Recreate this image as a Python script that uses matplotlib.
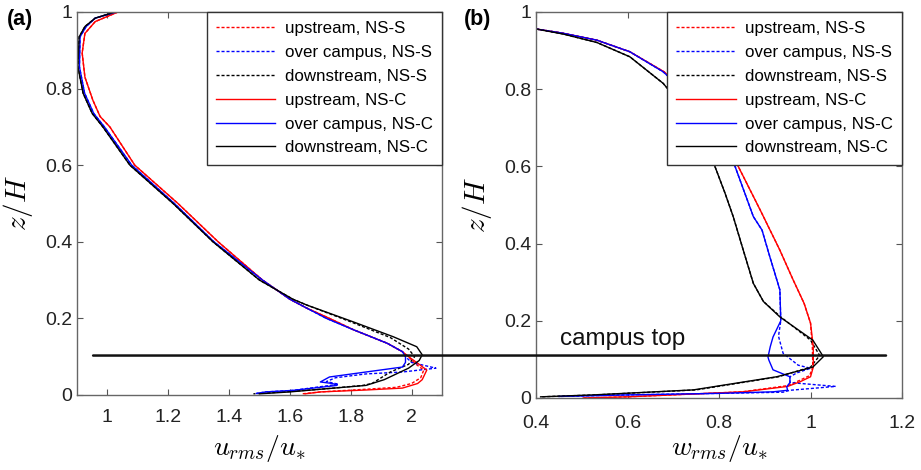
import numpy as np
import matplotlib.pyplot as plt
from matplotlib.patches import ConnectionPatch
from matplotlib.ticker import FormatStrFormatter
from matplotlib.transforms import blended_transform_factory

plt.rcParams['font.family'] = ['Liberation Sans', 'DejaVu Sans']
plt.rcParams['mathtext.fontset'] = 'cm'

# ---- (a) streamwise rms velocity, u_rms/u* against z/H ----
a_up_c_z = [1.0, 0.975, 0.944, 0.893, 0.83, 0.77, 0.727, 0.7, 0.6, 0.5, 0.4, 0.3, 0.25, 0.227,
            0.2, 0.17, 0.135, 0.113, 0.1, 0.083, 0.065, 0.04, 0.03, 0.018, 0.013, 0.008, 0.003]
a_up_c_x = [1.035, 0.96, 0.926, 0.917, 0.926, 0.952, 0.976, 1.008, 1.09, 1.232, 1.364, 1.51, 1.60, 1.655,
            1.73, 1.81, 1.92, 1.97, 1.99, 2.02, 2.05, 2.035, 2.02, 1.97, 1.85, 1.70, 1.65]
a_up_s_z = [1.0, 0.975, 0.944, 0.893, 0.83, 0.77, 0.727, 0.7, 0.6, 0.5, 0.4, 0.3, 0.25, 0.227,
            0.2, 0.17, 0.135, 0.113, 0.1, 0.083, 0.065, 0.045, 0.03, 0.02, 0.015, 0.008, 0.003]
a_up_s_x = [1.035, 0.96, 0.926, 0.917, 0.926, 0.952, 0.976, 1.008, 1.09, 1.232, 1.364, 1.51, 1.60, 1.655,
            1.73, 1.81, 1.92, 1.97, 1.99, 2.01, 2.04, 2.03, 2.0, 1.95, 1.85, 1.70, 1.64]

a_ov_c_z = [1.0, 0.984, 0.962, 0.935, 0.857, 0.788, 0.735, 0.7, 0.6, 0.5, 0.4, 0.3, 0.25, 0.227,
            0.2, 0.17, 0.135, 0.113, 0.1, 0.085, 0.073, 0.06, 0.047, 0.034, 0.03, 0.025, 0.012, 0.008, 0.004]
a_ov_c_x = [1.03, 0.96, 0.93, 0.91, 0.908, 0.925, 0.955, 0.99, 1.08, 1.22, 1.35, 1.51, 1.60, 1.655,
            1.72, 1.81, 1.92, 1.97, 1.98, 1.98, 1.97, 1.85, 1.73, 1.70, 1.74, 1.755, 1.61, 1.52, 1.49]
a_ov_s_z = [1.0, 0.984, 0.962, 0.935, 0.857, 0.788, 0.735, 0.7, 0.6, 0.5, 0.4, 0.3, 0.25, 0.227,
            0.2, 0.17, 0.135, 0.113, 0.1, 0.085, 0.07, 0.06, 0.055, 0.045, 0.035, 0.028, 0.012, 0.008, 0.004]
a_ov_s_x = [1.03, 0.96, 0.93, 0.91, 0.908, 0.925, 0.955, 0.99, 1.08, 1.22, 1.35, 1.51, 1.60, 1.655,
            1.72, 1.81, 1.92, 1.97, 1.98, 2.0, 2.08, 1.97, 1.85, 1.75, 1.72, 1.76, 1.61, 1.52, 1.49]

a_dn_c_z = [1.0, 0.984, 0.962, 0.935, 0.857, 0.788, 0.735, 0.7, 0.6, 0.5, 0.4, 0.3, 0.25, 0.235,
            0.191, 0.152, 0.126, 0.105, 0.09, 0.07, 0.04, 0.025, 0.015, 0.008, 0.003]
a_dn_c_x = [1.025, 0.96, 0.926, 0.907, 0.903, 0.92, 0.95, 0.985, 1.074, 1.216, 1.347, 1.50, 1.61, 1.655,
            1.808, 1.94, 2.017, 2.035, 2.025, 1.99, 1.91, 1.85, 1.70, 1.60, 1.50]
a_dn_s_z = [1.0, 0.984, 0.962, 0.935, 0.857, 0.788, 0.735, 0.7, 0.6, 0.5, 0.4, 0.3, 0.25, 0.235,
            0.191, 0.15, 0.12, 0.1, 0.08, 0.06, 0.045, 0.035, 0.03, 0.025, 0.015, 0.008, 0.003]
a_dn_s_x = [1.025, 0.96, 0.926, 0.907, 0.903, 0.92, 0.95, 0.985, 1.074, 1.216, 1.347, 1.50, 1.61, 1.655,
            1.80, 1.93, 1.99, 2.01, 1.99, 1.93, 1.90, 1.88, 1.87, 1.84, 1.70, 1.58, 1.48]

# ---- (b) vertical rms velocity, w_rms/u* against z/H ----
b_up_c_z = [0.956, 0.945, 0.927, 0.897, 0.845, 0.75, 0.6, 0.487, 0.383, 0.306, 0.245, 0.194, 0.133,
            0.08, 0.055, 0.042, 0.03, 0.016, 0.003, 0.0]
b_up_c_x = [0.40, 0.459, 0.533, 0.605, 0.68, 0.77, 0.842, 0.89, 0.933, 0.962, 0.986, 1.0, 1.006,
            1.006, 1.0, 0.977, 0.95, 0.853, 0.60, 0.503]
b_up_s_z = [0.956, 0.945, 0.927, 0.897, 0.845, 0.75, 0.6, 0.487, 0.383, 0.306, 0.245, 0.194, 0.133,
            0.08, 0.058, 0.045, 0.032, 0.016, 0.003, 0.0]
b_up_s_x = [0.40, 0.459, 0.533, 0.605, 0.68, 0.77, 0.842, 0.89, 0.933, 0.962, 0.986, 1.0, 1.004,
            1.005, 0.998, 0.975, 0.95, 0.85, 0.60, 0.503]

b_ov_c_z = [0.956, 0.945, 0.927, 0.897, 0.845, 0.75, 0.6, 0.47, 0.435, 0.366, 0.28, 0.2, 0.158,
            0.133, 0.106, 0.098, 0.073, 0.055, 0.04, 0.029, 0.02, 0.016, 0.012, 0.008, 0.004]
b_ov_c_x = [0.40, 0.459, 0.533, 0.605, 0.678, 0.765, 0.835, 0.875, 0.894, 0.911, 0.933, 0.935, 0.918,
            0.912, 0.907, 0.909, 0.918, 0.955, 0.955, 0.948, 0.95, 0.918, 0.80, 0.60, 0.45]
b_ov_s_z = [0.956, 0.945, 0.927, 0.897, 0.845, 0.75, 0.6, 0.47, 0.435, 0.366, 0.28, 0.2, 0.16,
            0.116, 0.085, 0.077, 0.065, 0.055, 0.04, 0.03, 0.02, 0.015, 0.012, 0.008, 0.004]
b_ov_s_x = [0.40, 0.459, 0.533, 0.605, 0.678, 0.765, 0.835, 0.875, 0.894, 0.911, 0.933, 0.935, 0.93,
            0.94, 0.973, 1.0, 0.97, 0.955, 0.955, 1.055, 0.955, 0.94, 0.80, 0.60, 0.45]

b_dn_c_z = [0.956, 0.943, 0.921, 0.884, 0.815, 0.72, 0.6, 0.531, 0.47, 0.383, 0.297, 0.25, 0.21,
            0.15, 0.107, 0.08, 0.055, 0.021, 0.008, 0.003]
b_dn_c_x = [0.40, 0.459, 0.533, 0.605, 0.678, 0.745, 0.791, 0.813, 0.831, 0.853, 0.875, 0.897, 0.933,
            1.005, 1.028, 1.005, 0.926, 0.744, 0.525, 0.41]
b_dn_s_z = [0.956, 0.943, 0.921, 0.884, 0.815, 0.72, 0.6, 0.531, 0.47, 0.383, 0.297, 0.25, 0.21,
            0.15, 0.11, 0.08, 0.055, 0.021, 0.008, 0.003]
b_dn_s_x = [0.40, 0.459, 0.533, 0.605, 0.678, 0.745, 0.791, 0.813, 0.831, 0.853, 0.875, 0.897, 0.935,
            1.0, 1.02, 1.0, 0.93, 0.75, 0.53, 0.41]

campus_top = 0.103
labels = ['upstream, NS-S', 'over campus, NS-S', 'downstream, NS-S',
          'upstream, NS-C', 'over campus, NS-C', 'downstream, NS-C']

fig = plt.figure(figsize=(9.21, 4.70), dpi=100)
ax1 = fig.add_axes([0.0836, 0.1596, 0.3963, 0.8149])
ax2 = fig.add_axes([0.582, 0.1532, 0.3974, 0.8213])

panels = [
    (ax1, [(a_up_s_x, a_up_s_z), (a_ov_s_x, a_ov_s_z), (a_dn_s_x, a_dn_s_z),
           (a_up_c_x, a_up_c_z), (a_ov_c_x, a_ov_c_z), (a_dn_c_x, a_dn_c_z)]),
    (ax2, [(b_up_s_x, b_up_s_z), (b_ov_s_x, b_ov_s_z), (b_dn_s_x, b_dn_s_z),
           (b_up_c_x, b_up_c_z), (b_ov_c_x, b_ov_c_z), (b_dn_c_x, b_dn_c_z)]),
]
colors = ['#ff0000', '#0000ff', '#000000'] * 2
styles = [(0, (2.2, 1.4))] * 3 + ['-'] * 3

for ax, series in panels:
    for (x, z), c, ls, lab in zip(series, colors, styles, labels):
        ax.plot(x, z, color=c, ls=ls, lw=1.0, label=lab)
    ax.set_ylim(0, 1)
    ax.set_yticks(np.arange(0, 1.01, 0.2))
    ax.yaxis.set_major_formatter(FormatStrFormatter('%g'))
    ax.xaxis.set_major_formatter(FormatStrFormatter('%g'))
    ax.tick_params(direction='in', top=True, right=True, length=4, labelsize=14,
                   color='#555555', labelcolor='#222222')
    for sp in ax.spines.values():
        sp.set_color('#666666')
        sp.set_linewidth(1.0)
    ax.set_ylabel(r'$z/H$', fontsize=21, labelpad=7)
    leg = ax.legend(loc='upper right', borderaxespad=0, fontsize=12.2, handlelength=3.5,
                    handletextpad=0.55, labelspacing=0.52, fancybox=False, framealpha=1,
                    borderpad=0.55)
    leg.get_frame().set_edgecolor('#333333')
    leg.get_frame().set_linewidth(1.0)

ax1.set_xlim(0.9, 2.1)
ax1.set_xticks(np.arange(1.0, 2.01, 0.2))
ax1.tick_params(axis='x', pad=10)
ax1.set_xlabel(r'$u_{rms}/u_{*}$', fontsize=20, labelpad=5)

ax2.set_xlim(0.4, 1.2)
ax2.set_xticks(np.arange(0.4, 1.21, 0.2))
ax2.tick_params(axis='x', pad=12)
ax2.set_xlabel(r'$w_{rms}/u_{*}$', fontsize=20, labelpad=1)

# campus-top marker runs across both panels
con = ConnectionPatch(xyA=(0.953, campus_top), coordsA=ax1.transData,
                      xyB=(1.165, campus_top),
                      coordsB=blended_transform_factory(ax2.transData, ax1.transData),
                      color='#111111', lw=1.8)
fig.add_artist(con)
ax2.text(0.452, 0.152, 'campus top', fontsize=17.5, va='center', ha='left', color='#111111')

fig.text(0.007, 0.958, '(a)', fontsize=15.5, fontweight='bold', va='center')
fig.text(0.504, 0.958, '(b)', fontsize=15.5, fontweight='bold', va='center')

fig.savefig('out.png', dpi=100)
